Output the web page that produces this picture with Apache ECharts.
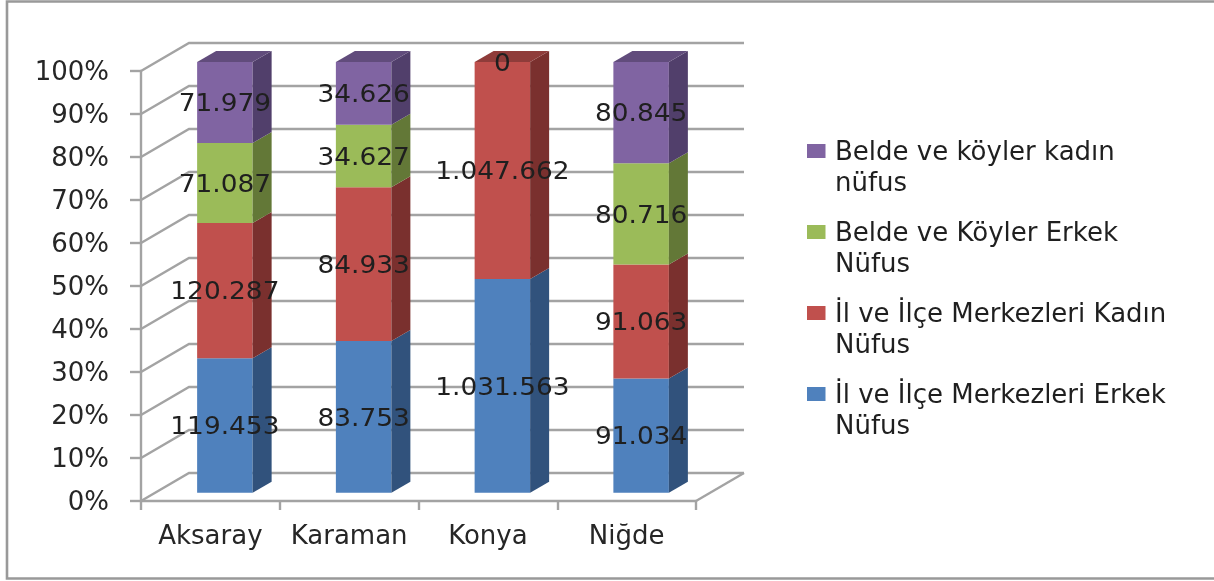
<!DOCTYPE html>
<html>
<head>
<meta charset="utf-8">
<script src="https://cdn.jsdelivr.net/npm/echarts@6/dist/echarts.min.js"></script>
<style>
html, body { margin: 0; padding: 0; background: #fff; }
#chart { width: 1214px; height: 581px; filter: blur(0.5px); }
</style>
</head>
<body>
<div id="chart"></div>
<script>
var categories = ['Aksaray', 'Karaman', 'Konya', 'Niğde'];
var seriesNames = [
    'İl ve İlçe Merkezleri Erkek Nüfus',
    'İl ve İlçe Merkezleri Kadın Nüfus',
    'Belde ve Köyler Erkek Nüfus',
    'Belde ve köyler kadın nüfus'
];
var ilErkek = [119453, 83753, 1031563, 91034];
var ilKadin = [120287, 84933, 1047662, 91063];
var beldeErkek = [71087, 34627, null, 80716];
var beldeKadin = [71979, 34626, 0, 80845];
var valueLabels = [
    ['119.453', '83.753', '1.031.563', '91.034'],
    ['120.287', '84.933', '1.047.662', '91.063'],
    ['71.087', '34.627', '', '80.716'],
    ['71.979', '34.626', '0', '80.845']
];
var yTicks = [0, 10, 20, 30, 40, 50, 60, 70, 80, 90, 100];

var frontColors = ['#4f81bd', '#c0504d', '#9bbb59', '#8064a2'];
var sideColors = ['#31527c', '#7a302e', '#637837', '#513f6b'];
var topColors = ['#3a5f8e', '#8f3c3a', '#74903f', '#614c7c'];
var legendNames = seriesNames.slice().reverse();
var legendLines = {
    'Belde ve köyler kadın nüfus': 'Belde ve köyler kadın\nnüfus',
    'Belde ve Köyler Erkek Nüfus': 'Belde ve Köyler Erkek\nNüfus',
    'İl ve İlçe Merkezleri Kadın Nüfus': 'İl ve İlçe Merkezleri Kadın\nNüfus',
    'İl ve İlçe Merkezleri Erkek Nüfus': 'İl ve İlçe Merkezleri Erkek\nNüfus'
};

// fake 3d: walls go back by depthX/depthY, the bar sits in the middle of that
var depthX = 48, depthY = -28;
var barGapX = 14.5, barGapY = -8.3, barDepthX = 19, barDepthY = -11;
var barShare = 0.4;
var barHeightScale = 430.7 / 430;
var lineGrey = '#a3a3a3';

var allValues = [ilErkek, ilKadin, beldeErkek, beldeKadin];

function stackedData(idx) {
    return categories.map(function (c, i) {
        var total = 0, before = 0;
        allValues.forEach(function (arr, k) {
            total += arr[i] || 0;
            if (k < idx) before += arr[i] || 0;
        });
        var v = allValues[idx][i] || 0;
        return [i, before / total * 100, (before + v) / total * 100, v];
    });
}

function poly(points, color) {
    return { type: 'polygon', shape: { points: points }, style: { fill: color } };
}

function renderBar(idx) {
    return function (params, api) {
        var cat = api.value(0), start = api.value(1), end = api.value(2), v = api.value(3);
        var band = api.size([1, 0])[0];
        var w = band * barShare;
        var c0 = api.coord([cat, start * barHeightScale]);
        var c1 = api.coord([cat, end * barHeightScale]);
        var xl = c0[0] + barGapX - w / 2, xr = xl + w;
        var yb = c0[1] + barGapY, yt = c1[1] + barGapY;
        var children = [];
        if (v > 0) {
            children.push(poly([[xl, yb], [xr, yb], [xr, yt], [xl, yt]], frontColors[idx]));
            children.push(poly([[xr, yb], [xr + barDepthX, yb + barDepthY], [xr + barDepthX, yt + barDepthY], [xr, yt]], sideColors[idx]));
            if (end > 99.999) {
                children.push(poly([[xl, yt], [xr, yt], [xr + barDepthX, yt + barDepthY], [xl + barDepthX, yt + barDepthY]], topColors[idx]));
            }
        }
        var label = valueLabels[idx][cat];
        if (label) {
            children.push({
                type: 'text',
                x: (xl + xr) / 2,
                y: (yb + yt) / 2 + 2.5,
                scaleX: 1.1,
                z2: 10,
                style: {
                    text: label,
                    fontFamily: 'DejaVu Sans',
                    fontSize: 24,
                    fill: '#1f1f1f',
                    align: 'center',
                    verticalAlign: 'middle'
                }
            });
        }
        return { type: 'group', children: children };
    };
}

function renderWall(params, api) {
    var children = [];
    var left = api.coord([0, 0])[0] - api.size([1, 0])[0] / 2;
    var right = left + api.size([1, 0])[0] * categories.length;
    yTicks.forEach(function (t) {
        var y = api.coord([0, t])[1];
        children.push({
            type: 'polyline',
            shape: { points: [[left, y], [left + depthX, y + depthY], [right + depthX, y + depthY]] },
            style: { stroke: lineGrey, lineWidth: 2.4, fill: null }
        });
    });
    var y0 = api.coord([0, 0])[1];
    children.push({
        type: 'line',
        shape: { x1: right, y1: y0, x2: right + depthX, y2: y0 + depthY },
        style: { stroke: lineGrey, lineWidth: 2.4 }
    });
    return { type: 'group', children: children };
}

var series = [{
    type: 'custom',
    name: 'wall',
    silent: true,
    z: 1,
    renderItem: renderWall,
    data: [[0, 0]],
    encode: { x: 0, y: 1 }
}];
seriesNames.forEach(function (name, idx) {
    series.push({
        type: 'custom',
        name: name,
        z: 2 + idx,
        clip: false,
        itemStyle: { color: frontColors[idx] },
        renderItem: renderBar(idx),
        data: stackedData(idx),
        encode: { x: 0, y: [1, 2] }
    });
});

var myChart = echarts.init(document.getElementById('chart'));
var option = {
    animation: false,
    backgroundColor: '#fff',
    graphic: [{
        type: 'rect',
        shape: { x: 7, y: 1.5, width: 1300, height: 577 },
        style: { fill: null, stroke: '#999999', lineWidth: 2.6 },
        silent: true
    }],
    grid: { left: 141, top: 71, width: 555, height: 430, containLabel: false },
    legend: {
        left: 802,
        top: 133,
        orient: 'vertical',
        selectedMode: false,
        data: legendNames,
        itemWidth: 23,
        itemHeight: 62,
        itemGap: 19,
        icon: 'path://M0 0L0 0M0 6H18.5V20H0ZM23 62L23 62',
        formatter: function (name) { return legendLines[name]; },
        textStyle: {
            fontFamily: 'DejaVu Sans',
            fontSize: 26,
            lineHeight: 31,
            color: '#1f1f1f'
        }
    },
    xAxis: {
        type: 'category',
        data: categories,
        axisLine: { lineStyle: { color: lineGrey, width: 2.4 } },
        axisTick: { show: true, interval: 0, length: 9, lineStyle: { color: lineGrey, width: 2.4 } },
        axisLabel: { interval: 0, margin: 23, fontFamily: 'DejaVu Sans', fontSize: 26, color: '#262626' }
    },
    yAxis: {
        type: 'value',
        min: 0,
        max: 100,
        interval: 10,
        splitLine: { show: false },
        axisLine: { show: true, lineStyle: { color: lineGrey, width: 2.4 } },
        axisTick: { show: true, length: 11, lineStyle: { color: lineGrey, width: 2.4 } },
        axisLabel: {
            margin: 32,
            formatter: '{a|{value}%}',
            rich: {
                a: { padding: [5, 0, 0, 0], fontFamily: 'DejaVu Sans', fontSize: 26, color: '#262626' }
            }
        }
    },
    series: series
};
myChart.setOption(option);
</script>
</body>
</html>
